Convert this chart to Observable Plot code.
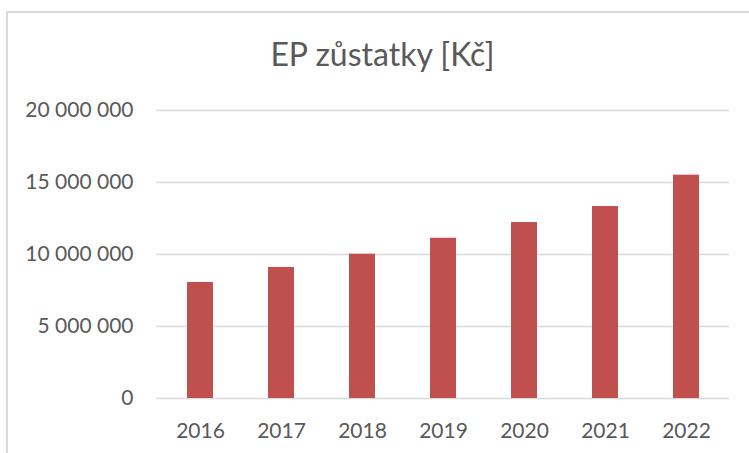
<!DOCTYPE html>
<html>
<head>
<meta charset="utf-8">
<script src="https://cdn.jsdelivr.net/npm/d3@7"></script>
<script src="https://cdn.jsdelivr.net/npm/@observablehq/plot@0.6"></script>
<style>
  html, body { margin: 0; padding: 0; background: #fff; }
  #wrap { position: relative; width: 749px; height: 453px; overflow: hidden; font-family: Lato, "Open Sans", sans-serif; }
  #frame { position: absolute; left: 6px; top: 11px; width: 760px; height: 460px; border-left: 2px solid #d9d9d9; border-top: 2px solid #d9d9d9; box-sizing: border-box; }
  #title { position: absolute; left: 7px; width: 751px; top: 38px; text-align: center; font-size: 32px; line-height: 1; color: #595959; white-space: nowrap; }
  #chart { position: absolute; left: 0; top: 0; }
</style>
</head>
<body>
<div id="wrap">
  <div id="frame"></div>
  <div id="chart"></div>
  <div id="title">EP zůstatky [Kč]</div>
</div>
<script>
const years = ["2016", "2017", "2018", "2019", "2020", "2021", "2022"];
const balances = [8060000, 9100000, 10020000, 11130000, 12220000, 13330000, 15510000];
const yTicks = [0, 5000000, 10000000, 15000000, 20000000];

const data = years.map((y, i) => ({year: y, value: balances[i]}));
const fmt = v => d3.format(",")(v).replace(/,/g, " ");

const chart = Plot.plot({
  width: 749,
  height: 453,
  marginTop: 110,
  marginBottom: 55,
  marginLeft: 156,
  marginRight: 20,
  style: {fontFamily: "Lato, 'Open Sans', sans-serif", fontSize: "21px", color: "#595959", background: "transparent"},
  x: {domain: years, paddingInner: 0.683, paddingOuter: 0.3415, label: null},
  y: {domain: [0, 20000000], label: null},
  marks: [
    Plot.ruleY(yTicks, {stroke: "#d9d9d9", strokeWidth: 1.5}),
    Plot.barY(data, {x: "year", y: "value", fill: "#C0504D"}),
    Plot.axisY(yTicks, {tickSize: 0, tickPadding: 23, tickFormat: fmt, label: null, fill: "#595959"}),
    Plot.axisX({tickSize: 0, tickPadding: 25, label: null, fill: "#595959"})
  ]
});
document.getElementById("chart").appendChild(chart);
</script>
</body>
</html>
